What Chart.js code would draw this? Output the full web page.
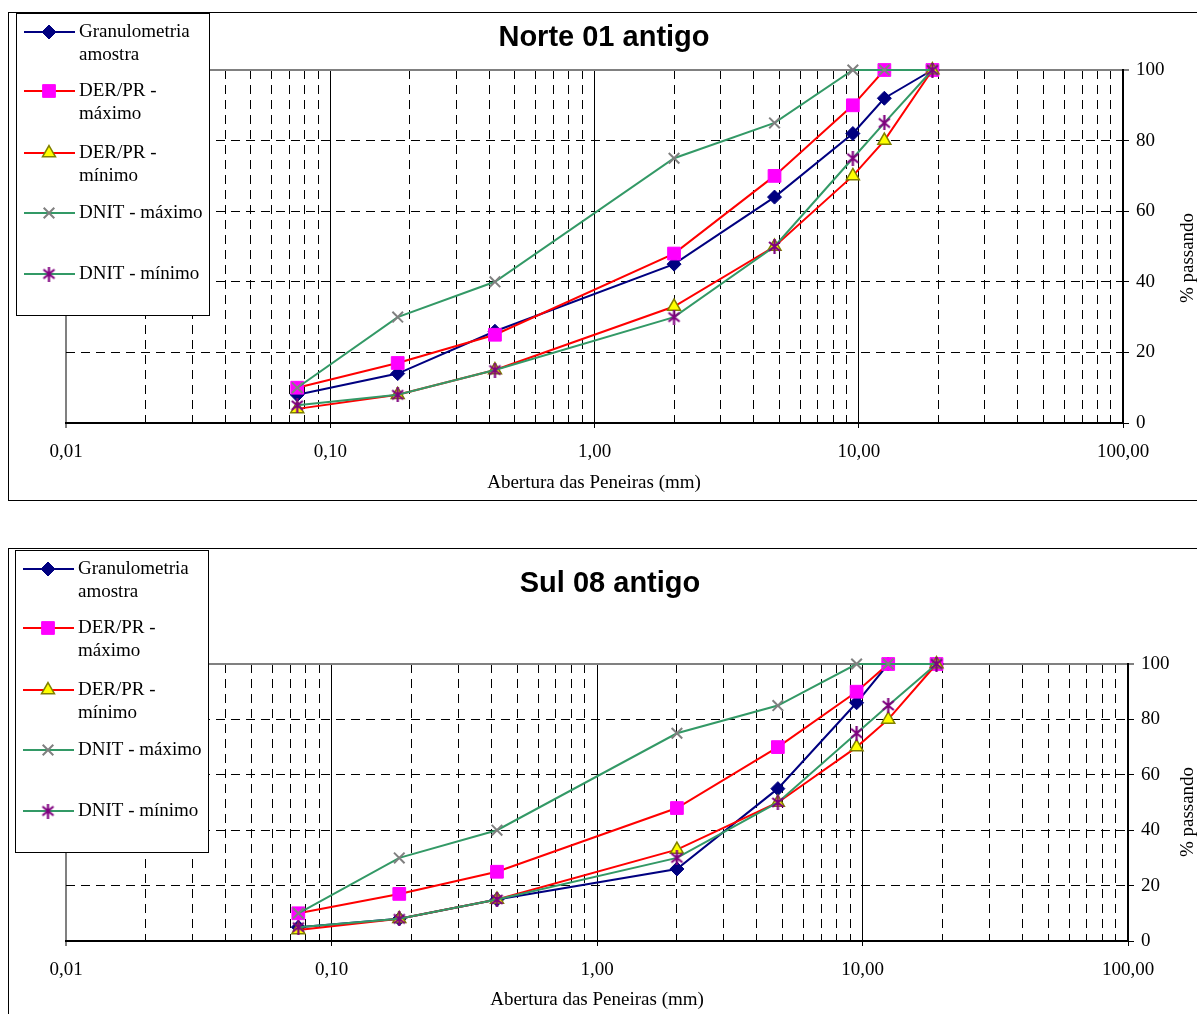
<!DOCTYPE html>
<html>
<head>
<meta charset="utf-8">
<script src="https://cdn.jsdelivr.net/npm/chart.js@4.4.1/dist/chart.umd.min.js"></script>
<style>
  html, body { margin: 0; padding: 0; background: #fff; overflow: hidden; width: 1197px; height: 1014px; }
  canvas { position: absolute; left: 0; }
</style>
</head>
<body>
<canvas id="chartNorte" width="1197" height="505" style="top:0"></canvas>
<canvas id="chartSul" width="1197" height="478" style="top:536px"></canvas>
<script>
// sieve openings (mm)
const sieves = [0.075, 0.18, 0.42, 2.0, 4.8, 9.5, 12.5, 19.0];

// legend names (line break = second legend line)
const seriesNames = ['Granulometria\namostra', 'DER/PR -\nmáximo', 'DER/PR -\nmínimo', 'DNIT - máximo', 'DNIT - mínimo'];

// limits (same on both charts)
const derMax = [10, 17, 25, 48, 70, 90, 100, 100];
const derMin = [4, 8, 15, 33, 50, 70, 80, 100];
const dnitMax = [10, 30, 40, 75, 85, 100, 100, 100];
const dnitMin = [5, 8, 15, 30, 50, 75, 85, 100];

// samples
const norte01 = [8, 14, 26, 45, 64, 82, 92, 100];
const sul08 = [5, 8, 15, 26, 55, 86, 100, 100];

// axis ticks
const decades = [0.01, 0.1, 1, 10];
const yTicks = [0, 20, 40, 60, 80, 100];

const xGrid = [];
decades.forEach(d => {
    for (let m = 1; m <= 9; m++) xGrid.push(Number((m * d).toPrecision(3)));
});
xGrid.push(100);

const isDecade = v => Math.abs(Math.log10(v) - Math.round(Math.log10(v))) < 1e-9;

function makeStar(color, size) {
    const c = document.createElement('canvas');
    c.width = size; c.height = size;
    const g = c.getContext('2d');
    g.strokeStyle = color;
    g.lineWidth = 2.2;
    const h = size / 2;
    g.beginPath();
    g.moveTo(2, 3); g.lineTo(size - 2, size - 3);
    g.moveTo(size - 2, 3); g.lineTo(2, size - 3);
    g.moveTo(h, 0); g.lineTo(h, size);
    g.stroke();
    return c;
}
const starIcon = makeStar('#800080', 15);

const serif = 'Liberation Serif';
const legendRows = [19, 78, 140, 200, 261];

const framePlugin = {
    id: 'frame',
    beforeDraw(chart, args, o) {
        const ctx = chart.ctx;
        ctx.save();
        ctx.fillStyle = '#fff';
        ctx.fillRect(0, 0, chart.width, chart.height);
        ctx.strokeStyle = '#000';
        ctx.lineWidth = 1;
        ctx.strokeRect(8.5, o.boxTop + 0.5, 1400, o.boxHeight);
        ctx.restore();
    },
    afterDraw(chart, args, o) {
        const ctx = chart.ctx;
        ctx.save();
        // title
        ctx.fillStyle = '#000';
        ctx.font = 'bold 29px "Liberation Sans"';
        ctx.textAlign = 'center';
        ctx.textBaseline = 'middle';
        ctx.fillText(o.title, o.titleX, o.titleY);
        // axis titles
        ctx.font = '19px "' + serif + '"';
        ctx.fillText('Abertura das Peneiras (mm)', o.xTitleX, o.xTitleY);
        ctx.save();
        ctx.translate(o.yTitleX, o.yTitleY);
        ctx.rotate(-Math.PI / 2);
        ctx.fillText('% passando', 0, 0);
        ctx.restore();

        // legend
        const lx = o.legendX, ly = o.legendY;
        ctx.fillStyle = '#fff';
        ctx.fillRect(lx, ly, 193, 302);
        ctx.strokeStyle = '#000';
        ctx.lineWidth = 1;
        ctx.strokeRect(lx + 0.5, ly + 0.5, 193, 302);
        chart.data.datasets.forEach((ds, i) => {
            const ry = ly + legendRows[i];
            ctx.strokeStyle = ds.borderColor;
            ctx.lineWidth = ds.borderWidth;
            ctx.beginPath();
            ctx.moveTo(lx + 8, ry);
            ctx.lineTo(lx + 59, ry);
            ctx.stroke();
            ctx.fillStyle = ds.pointBackgroundColor;
            ctx.strokeStyle = ds.pointBorderColor;
            ctx.lineWidth = ds.pointBorderWidth;
            Chart.helpers.drawPoint(ctx, {
                pointStyle: ds.pointStyle, radius: ds.pointRadius, rotation: 0, borderWidth: ds.pointBorderWidth
            }, lx + 33, ry);
            ctx.fillStyle = '#000';
            ctx.textAlign = 'left';
            ctx.font = '19px "' + serif + '"';
            ds.label.split('\n').forEach((t, k) => ctx.fillText(t, lx + 63, ry + k * 23));
        });
        ctx.restore();
    }
};

function buildDatasets(sample) {
    const pts = arr => sieves.map((s, i) => ({ x: s, y: arr[i] }));
    const base = { borderWidth: 2, tension: 0, clip: false, fill: false };
    const list = [
        { ...base, label: seriesNames[0], data: pts(sample), borderColor: '#000080',
          pointStyle: 'rectRot', pointRadius: 7, pointBackgroundColor: '#000080', pointBorderColor: '#000080', pointBorderWidth: 1 },
        { ...base, label: seriesNames[1], data: pts(derMax), borderColor: '#ff0000',
          pointStyle: 'rect', pointRadius: 9, pointBackgroundColor: '#ff00ff', pointBorderColor: '#ff00ff', pointBorderWidth: 1 },
        { ...base, label: seriesNames[2], data: pts(derMin), borderColor: '#ff0000',
          pointStyle: 'triangle', pointRadius: 7.5, pointBackgroundColor: '#ffff00', pointBorderColor: '#808000', pointBorderWidth: 1.5 },
        { ...base, label: seriesNames[3], data: pts(dnitMax), borderColor: '#339966',
          pointStyle: 'crossRot', pointRadius: 7.5, pointBackgroundColor: '#808080', pointBorderColor: '#808080', pointBorderWidth: 2 },
        { ...base, label: seriesNames[4], data: pts(dnitMin), borderColor: '#339966',
          pointStyle: starIcon, pointRadius: 7, pointBackgroundColor: '#800080', pointBorderColor: '#800080', pointBorderWidth: 2 }
    ];
    // later series on top, like the original
    list.forEach((d, i) => { d.order = list.length - i; });
    return list;
}

function makeChart(id, sample, f) {
    const canvas = document.getElementById(id);
    const W = canvas.width, H = canvas.height;
    return new Chart(canvas, {
        type: 'line',
        data: { datasets: buildDatasets(sample) },
        plugins: [framePlugin],
        options: {
            responsive: false,
            animation: false,
            events: [],
            layout: { padding: { left: f.plotLeft, top: f.plotTop, right: 0, bottom: 0 } },
            plugins: {
                legend: { display: false },
                title: { display: false },
                tooltip: { enabled: false },
                frame: f
            },
            scales: {
                x: {
                    type: 'logarithmic',
                    min: 0.01,
                    max: 100,
                    afterBuildTicks: s => { s.ticks = xGrid.map(v => ({ value: v })); },
                    afterFit: s => { s.height = H - f.plotBottom; },
                    ticks: {
                        autoSkip: false, maxRotation: 0, minRotation: 0, padding: 13, color: '#000',
                        font: { family: serif, size: 19 },
                        callback: v => isDecade(v) ? Number(v).toFixed(2).replace('.', ',') : ''
                    },
                    grid: {
                        color: c => {
                            const v = c.tick ? c.tick.value : 0;
                            if (v === 0.01) return '#808080';
                            if (v === 100) return 'rgba(0,0,0,0)';
                            return '#000';
                        },
                        lineWidth: c => (c.tick && c.tick.value === 0.01) ? 2 : 1,
                        tickLength: 5,
                        tickWidth: 1,
                        tickColor: c => (c.tick && isDecade(c.tick.value)) ? '#000' : 'rgba(0,0,0,0)'
                    },
                    border: {
                        color: '#000', width: 2,
                        dash: c => (c.tick && !isDecade(c.tick.value)) ? [9, 6] : []
                    }
                },
                y: {
                    position: 'right',
                    min: 0,
                    max: 100,
                    afterBuildTicks: s => { s.ticks = yTicks.map(v => ({ value: v })); },
                    afterFit: s => { s.width = W - f.plotRight; },
                    ticks: { padding: 7, color: '#000', font: { family: serif, size: 19 } },
                    grid: {
                        color: c => {
                            const v = c.tick ? c.tick.value : 0;
                            if (v === 100) return '#808080';
                            if (v === 0) return 'rgba(0,0,0,0)';
                            return '#000';
                        },
                        lineWidth: c => (c.tick && c.tick.value === 100) ? 2 : 1,
                        tickLength: 6,
                        tickWidth: 1,
                        tickColor: '#000'
                    },
                    border: {
                        color: '#000', width: 2,
                        dash: c => (c.tick && c.tick.value > 0 && c.tick.value < 100) ? [9, 6] : []
                    }
                }
            }
        }
    });
}

makeChart('chartNorte', norte01, {
    plotLeft: 66, plotTop: 70, plotRight: 1123, plotBottom: 423,
    boxTop: 12, boxHeight: 488,
    legendX: 16, legendY: 13,
    title: 'Norte 01 antigo', titleX: 604, titleY: 38,
    xTitleX: 594, xTitleY: 483, yTitleX: 1188, yTitleY: 258
});

makeChart('chartSul', sul08, {
    plotLeft: 66, plotTop: 128, plotRight: 1128, plotBottom: 405,
    boxTop: 12, boxHeight: 1000,
    legendX: 15, legendY: 14,
    title: 'Sul 08 antigo', titleX: 610, titleY: 48,
    xTitleX: 597, xTitleY: 464, yTitleX: 1188, yTitleY: 276
});
</script>
</body>
</html>
